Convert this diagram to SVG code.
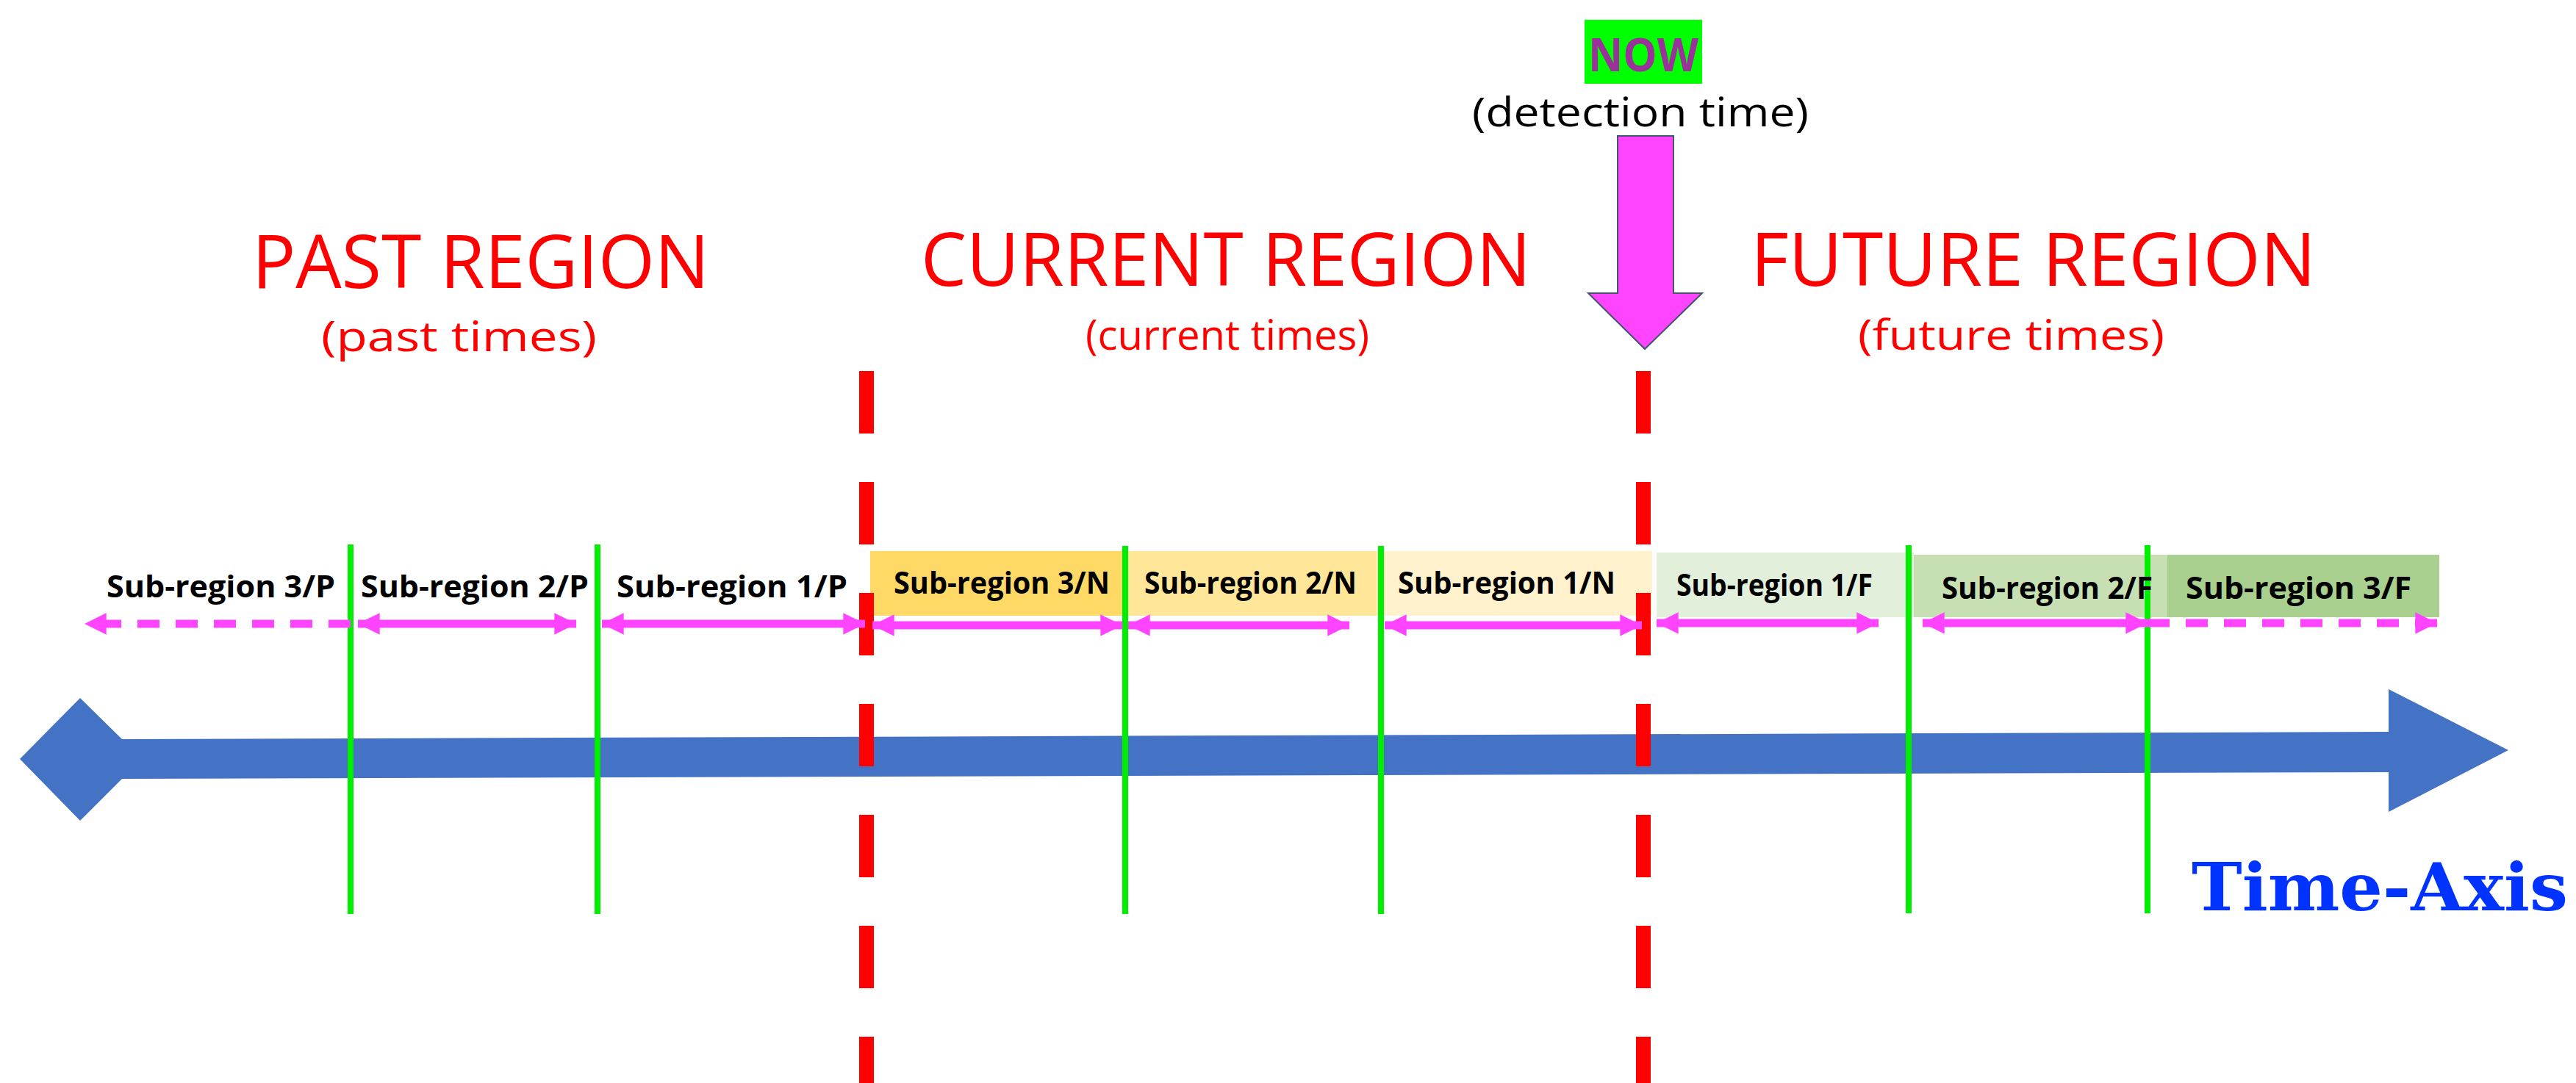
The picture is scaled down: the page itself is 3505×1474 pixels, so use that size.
<svg xmlns="http://www.w3.org/2000/svg" width="3505" height="1474" viewBox="0 0 3505 1474">
<defs>
<style>
.sub{font-family:"Open Sans","Liberation Sans",sans-serif;font-weight:bold;font-size:42px;fill:#000}
.reg{font-family:"Open Sans","Liberation Sans",sans-serif;font-size:100px;fill:#FF0000}
.regs{font-family:"Open Sans","Liberation Sans",sans-serif;font-size:56px;fill:#FF0000}
.green{stroke:#00EE00;stroke-width:8}
.red{stroke:#FF0000;stroke-width:20;stroke-dasharray:85 66}
.pink{stroke:#FF44FF;stroke-width:11;fill:none}
.pinkd{stroke:#FF44FF;stroke-width:11;fill:none;stroke-dasharray:30 22}
</style>
<marker id="ah" viewBox="0 0 10 10" refX="10" refY="5" markerWidth="2.7" markerHeight="3" orient="auto-start-reverse" markerUnits="strokeWidth"><path d="M0,0 L10,5 L0,10 Z" fill="#FF44FF"/></marker>
</defs>
<rect width="3505" height="1474" fill="#fff"/>
<g id="boxes">
<rect x="1184" y="750" width="343" height="88" fill="#FFD966"/>
<rect x="1527" y="750" width="346" height="88" fill="#FFE699"/>
<rect x="1873" y="750" width="375" height="88" fill="#FFF2CC"/>
<rect x="2254" y="752" width="350" height="88" fill="#E2EFDA"/>
<rect x="2604" y="755" width="345" height="85" fill="#C6E0B4"/>
<rect x="2949" y="755" width="370" height="85" fill="#A9D08E"/>
</g>
<g id="axis"><polygon points="27,1033 109,950 166,1006 3250,996 3250,938 3413,1021 3250,1105 3250,1051 166,1060 109,1117" fill="#4472C4"/></g>
<g id="connectors">
<line class="green" x1="477" y1="741" x2="477" y2="1244"/>
<line class="green" x1="813" y1="741" x2="813" y2="1244"/>
<line class="green" x1="1531" y1="743" x2="1531" y2="1244"/>
<line class="green" x1="1879" y1="743" x2="1879" y2="1244"/>
<line class="green" x1="2597" y1="742" x2="2597" y2="1243"/>
<line class="green" x1="2922" y1="742" x2="2922" y2="1243"/>
<line class="red" x1="1179" y1="505" x2="1179" y2="1474"/>
<line class="red" x1="2236" y1="505" x2="2236" y2="1474"/>
<line class="pinkd" x1="477" y1="849" x2="115" y2="849" marker-end="url(#ah)"/>
<line class="pink" x1="487" y1="849" x2="784" y2="849" marker-start="url(#ah)" marker-end="url(#ah)"/>
<line class="pink" x1="819" y1="849" x2="1177" y2="849" marker-start="url(#ah)" marker-end="url(#ah)"/>
<line class="pink" x1="1187" y1="851" x2="1527" y2="851" marker-start="url(#ah)" marker-end="url(#ah)"/>
<line class="pink" x1="1535" y1="851" x2="1836" y2="851" marker-start="url(#ah)" marker-end="url(#ah)"/>
<line class="pink" x1="1884" y1="851" x2="2234" y2="851" marker-start="url(#ah)" marker-end="url(#ah)"/>
<line class="pink" x1="2254" y1="848" x2="2556" y2="848" marker-start="url(#ah)" marker-end="url(#ah)"/>
<line class="pink" x1="2616" y1="848" x2="2922" y2="848" marker-start="url(#ah)" marker-end="url(#ah)"/>
<line class="pinkd" x1="2922" y1="848" x2="3316" y2="848" marker-end="url(#ah)"/>
</g>
<g id="labels">
<text class="sub" x="145" y="813" textLength="311" lengthAdjust="spacingAndGlyphs">Sub-region 3/P</text>
<text class="sub" x="491" y="813" textLength="310" lengthAdjust="spacingAndGlyphs">Sub-region 2/P</text>
<text class="sub" x="839" y="813" textLength="314" lengthAdjust="spacingAndGlyphs">Sub-region 1/P</text>
<text class="sub" x="1216" y="808" textLength="294" lengthAdjust="spacingAndGlyphs">Sub-region 3/N</text>
<text class="sub" x="1557" y="808" textLength="289" lengthAdjust="spacingAndGlyphs">Sub-region 2/N</text>
<text class="sub" x="1902" y="808" textLength="296" lengthAdjust="spacingAndGlyphs">Sub-region 1/N</text>
<text class="sub" x="2281" y="811" textLength="267" lengthAdjust="spacingAndGlyphs">Sub-region 1/F</text>
<text class="sub" x="2642" y="815" textLength="287" lengthAdjust="spacingAndGlyphs">Sub-region 2/F</text>
<text class="sub" x="2974" y="815" textLength="307" lengthAdjust="spacingAndGlyphs">Sub-region 3/F</text>
</g>
<g id="regions">
<text class="reg" x="343" y="392" textLength="622" lengthAdjust="spacingAndGlyphs">PAST REGION</text>
<text class="regs" x="437" y="478" textLength="375" lengthAdjust="spacingAndGlyphs">(past times)</text>
<text class="reg" x="1253" y="389" textLength="830" lengthAdjust="spacingAndGlyphs">CURRENT REGION</text>
<text class="regs" x="1477" y="476" textLength="386" lengthAdjust="spacingAndGlyphs">(current times)</text>
<text class="reg" x="2382" y="389" textLength="769" lengthAdjust="spacingAndGlyphs">FUTURE REGION</text>
<text class="regs" x="2528" y="476" textLength="417" lengthAdjust="spacingAndGlyphs">(future times)</text>
</g>
<g id="now">
<rect x="2156" y="27" width="160" height="87" fill="#00FF00"/>
<text x="2236" y="97" text-anchor="middle" font-family="Open Sans,Liberation Sans,sans-serif" font-weight="bold" font-size="62" fill="#993399" textLength="150" lengthAdjust="spacingAndGlyphs">NOW</text>
<text x="2232" y="172" text-anchor="middle" font-family="Open Sans,Liberation Sans,sans-serif" font-size="54" fill="#000" textLength="458" lengthAdjust="spacingAndGlyphs">(detection time)</text>
<polygon points="2201,185 2277,185 2277,399 2316,399 2238,475 2161,399 2201,399" fill="#FF44FF" stroke="#44546A" stroke-width="2"/>
</g>
<g id="timeaxis"><text x="2982" y="1239" font-family="DejaVu Serif,serif" font-weight="bold" font-size="90" fill="#0033FF" textLength="512" lengthAdjust="spacingAndGlyphs">Time-Axis</text></g>
</svg>
